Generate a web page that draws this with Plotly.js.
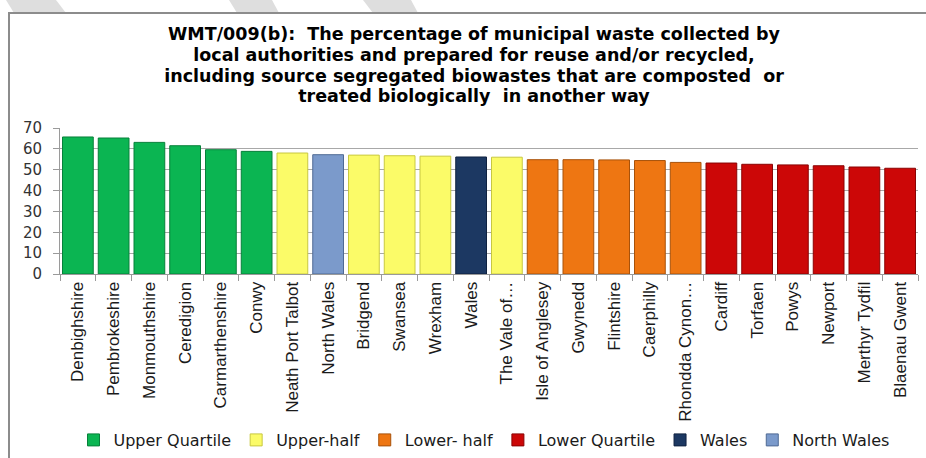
<!DOCTYPE html>
<html>
<head>
<meta charset="utf-8">
<script src="https://cdn.plot.ly/plotly-3.0.1.min.js"></script>
<style>
  html, body { margin: 0; padding: 0; background: #ffffff; }
  #chart { width: 926px; height: 458px; }
</style>
</head>
<body>
<div id="chart"></div>
<script>
// ---- Data ----
const categories = [
  "Denbighshire", "Pembrokeshire", "Monmouthshire", "Ceredigion", "Carmarthenshire",
  "Conwy", "Neath Port Talbot", "North Wales", "Bridgend", "Swansea", "Wrexham",
  "Wales", "The Vale of…", "Isle of Anglesey", "Gwynedd", "Flintshire", "Caerphilly",
  "Rhondda Cynon…", "Cardiff", "Torfaen", "Powys", "Newport", "Merthyr Tydfil",
  "Blaenau Gwent"
];
const values = [
  65.7, 65.2, 63.1, 61.5, 59.6,
  58.8, 58.0, 57.2, 57.0, 56.7, 56.5,
  56.1, 56.0, 54.8, 54.8, 54.7, 54.4,
  53.5, 53.2, 52.6, 52.3, 51.9, 51.3,
  50.7
];
const groups = [
  "Upper Quartile", "Upper Quartile", "Upper Quartile", "Upper Quartile", "Upper Quartile",
  "Upper Quartile", "Upper-half", "North Wales", "Upper-half", "Upper-half", "Upper-half",
  "Wales", "Upper-half", "Lower- half", "Lower- half", "Lower- half", "Lower- half",
  "Lower- half", "Lower Quartile", "Lower Quartile", "Lower Quartile", "Lower Quartile", "Lower Quartile",
  "Lower Quartile"
];
const legendOrder = ["Upper Quartile", "Upper-half", "Lower- half", "Lower Quartile", "Wales", "North Wales"];
const yTickValues = [0, 10, 20, 30, 40, 50, 60, 70];
const titleLines = [
  "WMT/009(b):  The percentage of municipal waste collected by",
  "local authorities and prepared for reuse and/or recycled,",
  "including source segregated biowastes that are composted  or",
  "treated biologically  in another way"
];

// ---- Styles ----
const groupStyle = {
  "Upper Quartile": { fill: "#0bb552", line: "#07803a" },
  "Upper-half":     { fill: "#fbfb68", line: "#c8c840" },
  "Lower- half":    { fill: "#ee7612", line: "#a8520a" },
  "Lower Quartile": { fill: "#cc0707", line: "#8a0303" },
  "Wales":          { fill: "#1c3862", line: "#0f2140" },
  "North Wales":    { fill: "#7b9acb", line: "#4f6a94" }
};

const W = 926, H = 458;
const M = { l: 60, r: 8, t: 128, b: 184, autoexpand: false };
const PW = W - M.l - M.r, PH = H - M.t - M.b;
const px2x = p => (p - M.l) / PW;
const px2y = p => 1 - (p - M.t) / PH;

const traces = legendOrder.map(g => {
  const xs = [], ys = [];
  categories.forEach((c, i) => { if (groups[i] === g) { xs.push(c); ys.push(values[i]); } });
  return {
    type: "bar",
    name: g,
    x: xs,
    y: ys,
    marker: { color: groupStyle[g].fill, line: { color: groupStyle[g].line, width: 1 } },
    hoverinfo: "x+y"
  };
});

// decorative stripes at top and chart frame
const stripes = [
  [6, 56, 14, 66],
  [229, 272, 237, 279],
  [363, 411, 373, 418]
];
const shapes = stripes.map(s => ({
  type: "path", xref: "paper", yref: "paper",
  path: `M${px2x(s[0])},${px2y(0)} L${px2x(s[1])},${px2y(0)} L${px2x(s[3])},${px2y(13)} L${px2x(s[2])},${px2y(13)} Z`,
  fillcolor: "#dedede", line: { width: 0 }, layer: "below"
}));
shapes.push({
  type: "rect", xref: "paper", yref: "paper",
  x0: px2x(9), x1: px2x(940), y0: px2y(470), y1: px2y(13),
  line: { color: "#8c8c8c", width: 2 }, fillcolor: "rgba(0,0,0,0)", layer: "below"
});

const layout = {
  width: W, height: H,
  margin: M,
  paper_bgcolor: "#ffffff",
  plot_bgcolor: "#ffffff",
  barmode: "overlay",
  bargap: 0.14,
  showlegend: true,
  title: {
    text: titleLines.map(t => '<span style="font-size:17.5px"><b>' + t + '</b></span>').join("<br>"),
    font: { family: "DejaVu Sans", size: 16, color: "#000000" },
    x: 474 / W, xanchor: "center",
    y: 1 - 40 / H, yanchor: "top",
    yref: "container"
  },
  xaxis: {
    type: "category",
    categoryorder: "array",
    categoryarray: categories,
    tickangle: -90,
    tickfont: { family: "Liberation Sans", size: 17, color: "#1a1a1a" },
    showline: true, linecolor: "#9a9a9a", linewidth: 1,
    ticks: "outside", tickson: "boundaries", ticklen: 6, tickcolor: "#9a9a9a",
    showgrid: false,
    automargin: false,
    fixedrange: true
  },
  yaxis: {
    range: [0, 70],
    tickvals: yTickValues,
    tickfont: { family: "DejaVu Sans", size: 15, color: "#333333" },
    showline: true, linecolor: "#9a9a9a", linewidth: 1,
    ticks: "outside", ticklen: 6, tickcolor: "#9a9a9a",
    ticklabelstandoff: 8,
    showgrid: true, gridcolor: "#a8a8a8", gridwidth: 1,
    zeroline: false,
    automargin: false,
    fixedrange: true
  },
  legend: {
    orientation: "h",
    x: px2x(484), xanchor: "center",
    y: px2y(440), yanchor: "middle",
    font: { family: "DejaVu Sans", size: 16, color: "#1a1a1a" },
    bgcolor: "rgba(255,255,255,0)",
    traceorder: "normal",
    itemclick: false, itemdoubleclick: false
  },
  shapes: shapes
};

Plotly.newPlot("chart", traces, layout, { displayModeBar: false, staticPlot: true });
</script>
</body>
</html>
